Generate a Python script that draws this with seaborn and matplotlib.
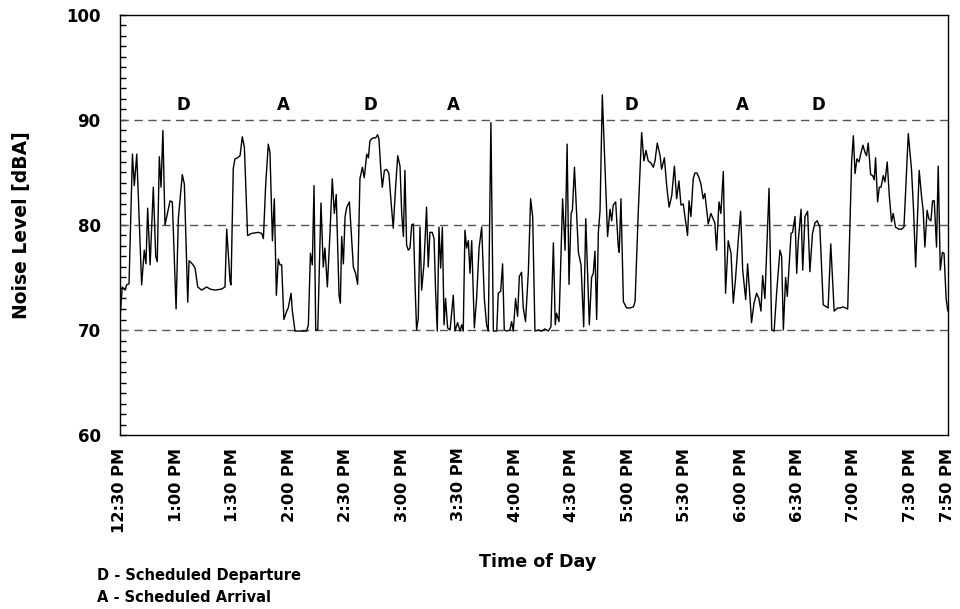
import matplotlib
matplotlib.use("Agg")
import matplotlib.pyplot as plt
from matplotlib.ticker import MultipleLocator, FixedLocator
import numpy as np
import pandas as pd
import seaborn as sns

# Minutes after 12:30 PM and the measured noise level at each reading
minutes = [
    0, 1.2, 2.7, 3.5, 4.8, 6.6, 7.6, 8.9, 11.5, 12.9, 13.8, 14.7, 16.0, 17.7, 19.0,
    19.8, 20.9, 21.8, 22.8, 23.9, 26.6, 27.8, 29.8, 31.0, 33.1, 34.2, 36.0, 36.7,
    38.4, 39.9, 41.3, 43.4, 46.1, 47.8, 50.5, 54.0, 55.8, 56.7, 58.5, 59.0, 60.2,
    61.1, 62.5, 63.8, 65.0, 66.1, 67.8, 70.0, 73.5, 75.3, 76.2, 77.4, 78.8, 79.7,
    81.0, 82.0, 83.1, 84.1, 85.0, 85.9, 87.1, 88.6, 89.4, 90.9, 91.6, 93.0, 95.7,
    99.2, 100.1, 101.2, 102.2, 103.1, 104.0, 105.1, 106.8, 108.0, 108.9, 110.2,
    111.6, 112.8, 113.9, 114.9, 116.4, 117.1, 117.8, 118.7, 119.6, 120.5, 121.9,
    124.0, 125.2, 126.3, 127.5, 128.8, 129.8, 131.1, 132.0, 132.8, 133.7, 134.6,
    135.9, 136.9, 137.6, 138.7, 139.4, 140.5, 141.7, 142.9, 144.0, 145.2, 146.5,
    147.6, 148.8, 149.7, 150.6, 151.4, 152.3, 153.2, 154.1, 155.0, 155.9, 156.8,
    157.6, 158.5, 159.4, 160.3, 161.5, 162.9, 163.8, 164.7, 165.9, 166.9, 167.7,
    168.6, 169.5, 170.4, 171.3, 172.2, 173.0, 174.1, 175.4, 177.1, 178.0, 179.4,
    180.7, 181.6, 182.4, 183.3, 184.2, 185.1, 186.0, 186.9, 188.3, 189.5, 190.8,
    192.2, 193.6, 194.8, 195.7, 197.1, 198.4, 200.2, 201.0, 202.3, 203.3, 204.2,
    205.4, 207.2, 208.1, 209.0, 210.2, 211.3, 212.2, 213.4, 214.3, 215.5, 217.0,
    218.2, 219.3, 220.5, 222.3, 224.1, 225.8, 227.6, 229.0, 230.3, 231.3, 232.0,
    233.3, 235.2, 236.5, 237.6, 238.6, 239.7, 240.4, 241.5, 243.6, 245.0, 246.4,
    247.5, 249.4, 250.6, 251.5, 252.4, 253.3, 254.2, 255.1, 256.3, 259.1, 260.4,
    261.3, 262.1, 263.4, 264.8, 265.3, 266.2, 267.5, 269.2, 271.0, 272.8, 273.7,
    275.4, 277.2, 278.4, 279.5, 280.7, 282.2, 283.4, 284.3, 285.5, 287.0, 287.8,
    289.3, 290.5, 291.8, 293.2, 294.6, 295.8, 297.0, 298.1, 299.3, 300.6, 301.6,
    302.4, 303.4, 304.6, 305.5, 306.6, 307.7, 308.7, 309.9, 310.8, 312.6, 314.0,
    315.2, 316.1, 317.0, 318.3, 319.3, 320.6, 321.8, 323.2, 324.7, 325.9, 327.1,
    328.6, 329.8, 330.9, 332.5, 333.5, 334.8, 335.6, 336.9, 338.3, 339.5, 340.6,
    341.5, 342.7, 344.9, 346.3, 347.6, 349.0, 350.7, 351.6, 352.5, 353.7, 354.6,
    356.6, 357.4, 358.7, 359.6, 360.4, 361.9, 362.8, 364.0, 365.4, 366.6, 368.0,
    369.3, 370.5, 371.9, 373.7, 376.3, 377.7, 379.5, 381.3, 382.6, 384.3, 386.7,
    388.8, 389.7, 390.6, 391.6, 392.7, 393.8, 394.8, 395.9, 396.7, 397.6, 398.9,
    400.0, 400.8, 401.5, 402.6, 403.5, 404.4, 405.6, 406.5, 407.7, 408.8, 410.0,
    410.9, 412.1, 413.9, 415.3, 416.6, 418.9, 420.6, 421.7, 422.8, 424.7, 425.9,
    426.8, 427.7, 428.9, 429.8, 430.9, 431.8, 432.7, 433.9, 434.8, 435.9, 437.0,
    437.9, 439.0, 439.9,
]
noise_dba = [
    71.1, 74.1, 73.8, 74.3, 74.4, 86.75, 83.75, 86.75, 74.3, 77.6, 76.3, 81.6, 76.2,
    83.6, 77.0, 76.5, 86.5, 83.6, 89.0, 80.0, 82.3, 82.2, 72.0, 80.6, 84.8, 83.9,
    72.65, 76.6, 76.3, 75.9, 74.1, 73.8, 74.1, 73.9, 73.8, 73.9, 74.1, 79.6, 74.6,
    74.3, 85.4, 86.3, 86.4, 86.6, 88.4, 87.4, 79.0, 79.2, 79.3, 79.2, 78.7, 83.8,
    87.7, 86.9, 78.5, 82.5, 73.3, 76.75, 76.2, 76.2, 71.0, 71.8, 72.1, 73.5, 71.8,
    69.9, 69.9, 69.9, 70.5, 77.3, 76.2, 83.75, 70.0, 70.0, 82.1, 76.0, 77.8, 74.1,
    79.3, 84.4, 81.1, 82.9, 73.3, 72.55, 78.9, 76.3, 80.8, 81.7, 82.2, 76.0, 75.4,
    74.35, 84.4, 85.5, 84.5, 86.75, 86.4, 88.0, 88.2, 88.3, 88.3, 88.6, 88.2, 85.0,
    83.6, 85.2, 85.3, 84.9, 82.3, 79.7, 83.75, 86.6, 85.6, 81.1, 78.9, 85.2, 78.1,
    77.6, 77.8, 80.0, 80.1, 74.3, 70.0, 71.1, 79.8, 73.8, 76.2, 81.7, 76.0, 79.3,
    79.3, 78.7, 73.7, 69.9, 79.8, 75.9, 79.8, 70.5, 73.0, 70.2, 70.0, 73.3, 69.9,
    70.7, 69.9, 70.5, 69.9, 79.5, 77.8, 78.5, 75.4, 78.5, 70.2, 73.0, 77.8, 79.8,
    73.0, 70.5, 69.9, 89.75, 69.9, 69.9, 73.5, 73.7, 76.3, 70.0, 69.9, 70.0, 70.8,
    69.9, 73.0, 71.3, 75.1, 75.5, 72.1, 70.8, 75.55, 82.5, 80.8, 69.9, 70.0, 69.9,
    70.1, 69.9, 70.3, 78.3, 70.5, 71.6, 70.8, 82.5, 77.6, 87.7, 74.35, 81.1, 81.4,
    85.5, 77.4, 76.2, 70.3, 80.6, 70.5, 75.0, 75.4, 77.5, 71.0, 79.3, 81.4, 92.4,
    78.9, 81.5, 80.4, 81.9, 82.2, 77.9, 77.4, 82.5, 72.7, 72.1, 72.1, 72.2, 72.7,
    81.2, 88.8, 86.1, 87.1, 86.1, 85.9, 85.5, 86.1, 87.8, 86.6, 85.3, 86.4, 83.75,
    81.7, 82.8, 85.6, 82.5, 84.2, 81.9, 82.0, 80.3, 79.0, 82.3, 80.8, 84.4, 84.95,
    84.95, 84.5, 83.9, 82.5, 83.0, 80.1, 81.1, 80.6, 80.2, 77.6, 82.2, 81.1, 85.1,
    73.5, 78.5, 77.3, 72.55, 74.9, 78.7, 81.3, 75.7, 72.9, 76.3, 73.0, 70.7, 72.55,
    73.5, 73.0, 71.8, 75.2, 73.0, 83.5, 70.0, 69.9, 73.7, 77.6, 77.0, 70.0, 75.0,
    73.2, 79.2, 79.3, 80.8, 75.4, 78.4, 81.5, 75.7, 80.8, 81.3, 75.55, 79.2, 80.2,
    80.4, 79.8, 72.4, 72.1, 78.2, 71.8, 72.1, 72.1, 72.2, 72.0, 86.1, 88.5, 84.9,
    86.3, 86.0, 86.9, 87.6, 86.9, 86.6, 87.8, 84.8, 84.7, 84.3, 86.4, 82.2, 83.6,
    83.6, 84.7, 84.1, 86.0, 82.8, 80.3, 81.1, 79.8, 79.6, 79.6, 79.8, 88.7, 85.3,
    81.4, 76.0, 85.2, 82.8, 81.4, 77.9, 81.4, 80.6, 80.4, 82.3, 82.3, 77.9, 85.6,
    75.7, 77.4, 77.3, 73.0, 71.8,
]

# Clock-time axis labels (minutes after 12:30 PM)
tick_minutes = [0, 30, 60, 90, 120, 150, 180, 210, 240, 270, 300, 330, 360, 390, 420, 440]
tick_labels = ["12:30 PM", "1:00 PM", "1:30 PM", "2:00 PM", "2:30 PM", "3:00 PM",
               "3:30 PM", "4:00 PM", "4:30 PM", "5:00 PM", "5:30 PM", "6:00 PM",
               "6:30 PM", "7:00 PM", "7:30 PM", "7:50 PM"]

# Scheduled departures (D) and arrivals (A)
event_minutes = [33.5, 87.0, 133.0, 177.0, 271.5, 330.5, 371.0]
event_codes = ["D", "A", "D", "A", "D", "A", "D"]

reference_levels = [70, 80, 90]

sns.set_theme(style="white")
plt.rcParams["font.family"] = ["DejaVu Sans"]
plt.rcParams["font.weight"] = "bold"
plt.rcParams["text.color"] = "black"
plt.rcParams["axes.labelcolor"] = "black"
plt.rcParams["xtick.color"] = "black"
plt.rcParams["ytick.color"] = "black"

df = pd.DataFrame({"minute": minutes, "dBA": noise_dba})

fig = plt.figure(figsize=(9.6, 6.09), dpi=100)
ax = fig.add_axes([0.125, 0.2857, 0.8625, 0.6897])

for lvl in reference_levels:
    ax.axhline(lvl, color="#555555", lw=1.0, ls=(0, (6, 4)), zorder=1)

sns.lineplot(data=df, x="minute", y="dBA", color="black", lw=1.0,
             estimator=None, sort=False, ax=ax, zorder=3)

for t, code in zip(event_minutes, event_codes):
    ax.text(t, 91.4, code, ha="center", va="center", fontsize=12,
            fontweight="bold", color="black")

ax.set_xlim(0, 440)
ax.set_ylim(60, 100)
ax.xaxis.set_major_locator(FixedLocator(tick_minutes))
ax.set_xticklabels(tick_labels, rotation=90, fontsize=11.7, fontweight="bold")
ax.yaxis.set_major_locator(MultipleLocator(10))
ax.yaxis.set_minor_locator(MultipleLocator(1))
ax.tick_params(axis="x", length=0, pad=9, colors="black")
ax.tick_params(axis="y", which="both", direction="in", length=4, width=1,
               left=True, right=False, pad=14, colors="black")
for lab in ax.get_yticklabels():
    lab.set_fontsize(12)
    lab.set_fontweight("bold")

for s in ax.spines.values():
    s.set_visible(True)
    s.set_color("black")
    s.set_linewidth(1.0)

ax.set_ylabel("Noise Level [dBA]", fontsize=13.5, fontweight="bold", color="black")
ax.yaxis.set_label_coords(-0.1075, 0.5)
ax.set_xlabel("Time of Day", fontsize=12.6, fontweight="bold", color="black")
ax.xaxis.set_label_coords(0.504, -0.281)

fig.text(0.101, 0.0542, "D - Scheduled Departure", fontsize=10.5,
         fontweight="bold", va="center", ha="left", color="black")
fig.text(0.101, 0.0197, "A - Scheduled Arrival", fontsize=10.5,
         fontweight="bold", va="center", ha="left", color="black")

fig.savefig("out.png", dpi=100, facecolor="white")
